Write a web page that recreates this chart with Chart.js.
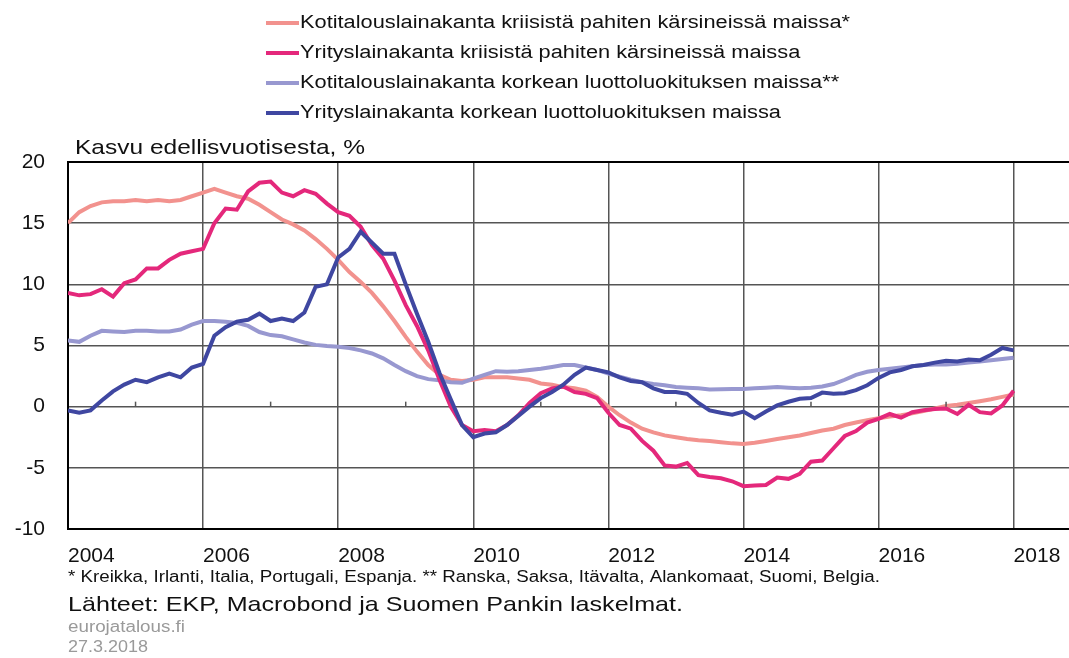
<!DOCTYPE html>
<html>
<head>
<meta charset="utf-8">
<script src="https://cdn.jsdelivr.net/npm/chart.js@4.4.1/dist/chart.umd.min.js"></script>
<style>
  html, body { margin: 0; padding: 0; background: #fff; }
  #wrap { width: 1069px; height: 658px; }
</style>
</head>
<body>
<div id="wrap"><canvas id="chart" width="1069" height="658"></canvas></div>
<script>
const FONT = "'Liberation Sans', Arial, sans-serif";

const seriesNames = [
  "Kotitalouslainakanta kriisistä pahiten kärsineissä maissa*",
  "Yrityslainakanta kriisistä pahiten kärsineissä maissa",
  "Kotitalouslainakanta korkean luottoluokituksen maissa**",
  "Yrityslainakanta korkean luottoluokituksen maissa"
];
const seriesColors = ["#F2928E", "#E4287B", "#9898D0", "#3F47A1"];

// one value every two months, Jan 2004 .. Jan 2018
const hhCrisis = [
  15.0, 15.9, 16.4, 16.7, 16.8, 16.8,
  16.9, 16.8, 16.9, 16.8, 16.9, 17.2,
  17.5, 17.8, 17.5, 17.2, 17.0, 16.5,
  15.9, 15.3, 14.9, 14.4, 13.7, 12.9,
  12.0, 11.0, 10.2, 9.3, 8.2, 7.0,
  5.7, 4.5, 3.4, 2.6, 2.2, 2.1,
  2.2, 2.4, 2.4, 2.4, 2.3, 2.2,
  1.9, 1.8, 1.6, 1.5, 1.3, 0.8,
  0.0, -0.7, -1.3, -1.8, -2.1, -2.35,
  -2.5, -2.65, -2.75, -2.8, -2.9, -3.0,
  -3.05, -2.95, -2.8, -2.65, -2.5, -2.35,
  -2.15, -1.95, -1.8, -1.5, -1.3, -1.1,
  -0.95, -0.8, -0.7, -0.55, -0.35, -0.15,
  0.05, 0.15, 0.3, 0.45, 0.6, 0.8,
  1.0
];
const corpCrisis = [
  9.3, 9.1, 9.2, 9.6, 9.0, 10.1,
  10.4, 11.3, 11.3, 12.0, 12.5, 12.7,
  12.9, 15.0, 16.2, 16.1, 17.6, 18.3,
  18.4, 17.5, 17.2, 17.7, 17.4, 16.6,
  15.9, 15.6, 14.7, 13.2, 12.1, 10.3,
  8.3, 6.6, 4.6, 2.2, 0.0, -1.5,
  -2.0, -1.9, -2.0, -1.5, -0.7, 0.3,
  1.1, 1.5, 1.65, 1.2, 1.05, 0.7,
  -0.5, -1.5, -1.8, -2.8, -3.6, -4.8,
  -4.9, -4.6, -5.6, -5.75, -5.85, -6.1,
  -6.5, -6.45, -6.4, -5.8, -5.9, -5.5,
  -4.5, -4.4, -3.4, -2.4, -2.0, -1.3,
  -1.0, -0.6, -0.9, -0.45, -0.3, -0.2,
  -0.15, -0.6, 0.15, -0.45, -0.55, 0.1,
  1.3
];
const hhHigh = [
  5.4, 5.3, 5.8, 6.2, 6.15, 6.1,
  6.2, 6.2, 6.15, 6.15, 6.3, 6.7,
  7.0, 7.0, 6.95, 6.85, 6.6, 6.1,
  5.85, 5.75, 5.5, 5.25, 5.05, 4.95,
  4.9, 4.8, 4.6, 4.35, 3.95, 3.4,
  2.9, 2.5, 2.25, 2.15, 2.0, 1.95,
  2.3, 2.6, 2.9, 2.85, 2.9, 3.0,
  3.1, 3.25, 3.4, 3.4, 3.2, 3.0,
  2.7, 2.45, 2.2, 2.0, 1.85, 1.75,
  1.6, 1.55, 1.5, 1.4, 1.42, 1.45,
  1.45, 1.5, 1.55, 1.6, 1.55, 1.5,
  1.55, 1.65, 1.85, 2.2, 2.6, 2.85,
  3.0, 3.1, 3.2, 3.3, 3.4, 3.45,
  3.45, 3.5, 3.6, 3.7, 3.8, 3.9,
  4.0
];
const corpHigh = [
  -0.3, -0.5, -0.3, 0.5, 1.25, 1.8,
  2.2, 2.0, 2.4, 2.7, 2.4, 3.2,
  3.5, 5.8, 6.5, 6.95, 7.1, 7.6,
  7.0, 7.2, 7.0, 7.7, 9.8, 10.0,
  12.2, 12.9, 14.3, 13.4, 12.5, 12.5,
  10.0, 7.6, 5.3, 2.75, 0.6, -1.5,
  -2.5, -2.2, -2.1, -1.5, -0.75, 0.0,
  0.7, 1.2, 1.8, 2.6, 3.2, 3.0,
  2.8, 2.4, 2.1, 2.0, 1.5, 1.2,
  1.2, 1.05, 0.3, -0.3, -0.5, -0.65,
  -0.4, -0.95, -0.4, 0.1, 0.4, 0.65,
  0.7, 1.15, 1.05, 1.1, 1.35, 1.75,
  2.35, 2.8, 3.0, 3.3, 3.4, 3.6,
  3.75, 3.7, 3.85, 3.8, 4.25, 4.8,
  4.6
];

const dates = hhCrisis.map((_, i) => 2004 + i / 6);
const yearTicks = [2004, 2006, 2008, 2010, 2012, 2014, 2016, 2018];
const minorTicks = [2005, 2007, 2009, 2011, 2013, 2015, 2017];
const yTicks = [-10, -5, 0, 5, 10, 15, 20];

const yTitle = "Kasvu edellisvuotisesta, %";
const noteLines = [
  "* Kreikka, Irlanti, Italia, Portugali, Espanja. ** Ranska, Saksa, Itävalta, Alankomaat, Suomi, Belgia.",
  "Lähteet: EKP, Macrobond ja Suomen Pankin laskelmat.",
  "eurojatalous.fi",
  "27.3.2018"
];

const allSeries = [hhCrisis, corpCrisis, hhHigh, corpHigh];
const drawOrder = [4, 2, 3, 1];

// draw text left-aligned, widened a little like the original
function wideText(ctx, text, x, y, stretch) {
  ctx.save();
  ctx.translate(x, y);
  ctx.scale(stretch, 1);
  ctx.fillText(text, 0, 0);
  ctx.restore();
}

const textPlugin = {
  id: 'texts',
  afterDraw(chart) {
    const ctx = chart.ctx;
    const xs = chart.scales.x, ys = chart.scales.y;
    ctx.save();

    // small ticks on the zero line
    ctx.strokeStyle = '#555';
    ctx.lineWidth = 1.5;
    const y0 = ys.getPixelForValue(0);
    minorTicks.forEach(v => {
      const px = xs.getPixelForValue(v);
      ctx.beginPath();
      ctx.moveTo(px, y0);
      ctx.lineTo(px, y0 - 5);
      ctx.stroke();
    });

    // legend
    ctx.textBaseline = 'middle';
    ctx.textAlign = 'left';
    ctx.fillStyle = '#111';
    ctx.font = '18px ' + FONT;
    const legStretch = 550 / ctx.measureText(seriesNames[0]).width;
    chart.data.datasets.forEach((ds, i) => {
      const y = 23 + i * 30;
      ctx.strokeStyle = ds.borderColor;
      ctx.lineWidth = 4;
      ctx.beginPath();
      ctx.moveTo(266, y);
      ctx.lineTo(299, y);
      ctx.stroke();
      wideText(ctx, ds.label, 300, y, legStretch);
    });

    // axis title
    ctx.font = '21px ' + FONT;
    wideText(ctx, yTitle, 75, 148, 290 / ctx.measureText(yTitle).width);

    // notes
    ctx.font = '16px ' + FONT;
    wideText(ctx, noteLines[0], 68, 578, 812 / ctx.measureText(noteLines[0]).width);
    ctx.font = '21px ' + FONT;
    wideText(ctx, noteLines[1], 68, 605, 615 / ctx.measureText(noteLines[1]).width);
    ctx.fillStyle = '#9a9a9a';
    ctx.font = '16px ' + FONT;
    wideText(ctx, noteLines[2], 68, 628, 117 / ctx.measureText(noteLines[2]).width);
    wideText(ctx, noteLines[3], 68, 648, 80 / ctx.measureText(noteLines[3]).width);
    ctx.restore();
  }
};

new Chart(document.getElementById('chart'), {
  type: 'line',
  data: {
    datasets: allSeries.map((s, i) => ({
      label: seriesNames[i],
      data: s.map((v, j) => ({ x: dates[j], y: v })),
      borderColor: seriesColors[i],
      backgroundColor: seriesColors[i],
      borderWidth: 4,
      pointRadius: 0,
      tension: 0,
      fill: false,
      order: drawOrder[i]
    }))
  },
  options: {
    responsive: false,
    devicePixelRatio: 1,
    animation: false,
    layout: { padding: { top: 162, left: 0, right: 0, bottom: 0 } },
    plugins: { legend: { display: false }, tooltip: { enabled: false } },
    scales: {
      x: {
        type: 'linear',
        min: 2004,
        max: 2018.82,
        afterBuildTicks: s => { s.ticks = yearTicks.map(v => ({ value: v })); },
        afterFit: s => { s.height = 129; s.paddingRight = 0; s.paddingLeft = 0; },
        grid: { color: '#555', lineWidth: 1.5, drawTicks: false },
        border: { color: '#000', width: 2 },
        ticks: {
          align: 'start', padding: 15, autoSkip: false, maxRotation: 0,
          color: '#111', font: { family: FONT, size: 21 },
          callback: v => String(v)
        }
      },
      y: {
        min: -10,
        max: 20,
        afterBuildTicks: s => { s.ticks = yTicks.map(v => ({ value: v })); },
        afterFit: s => { s.width = 68; s.paddingTop = 0; s.paddingBottom = 0; },
        grid: {
          color: c => (c.tick && (c.tick.value === 20 || c.tick.value === -10)) ? '#000' : '#555',
          lineWidth: c => (c.tick && (c.tick.value === 20 || c.tick.value === -10)) ? 2 : 1.5,
          drawTicks: false
        },
        border: { color: '#000', width: 2 },
        ticks: { padding: 23, color: '#111', font: { family: FONT, size: 21 } }
      }
    }
  },
  plugins: [textPlugin]
});
</script>
</body>
</html>
